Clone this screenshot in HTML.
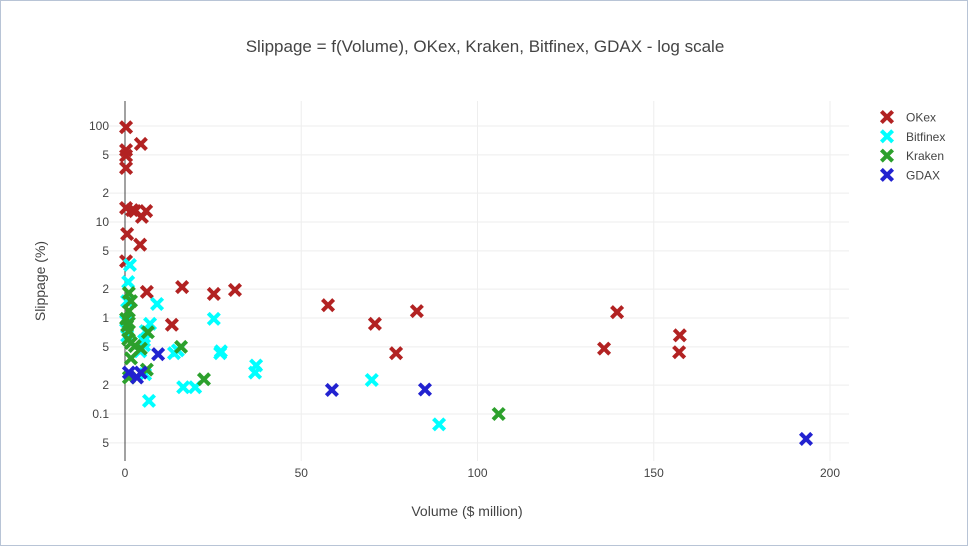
<!DOCTYPE html>
<html><head><meta charset="utf-8"><style>
body{margin:0;background:#fff;}
#wrap{position:relative;width:966px;height:544px;border:1px solid #b8c4d6;}
svg{font-family:"Liberation Sans",sans-serif;}
</style></head><body>
<div id="wrap">
<svg id="chart" width="966" height="544"></svg>
</div>
<script>
const xTicks=[0,50,100,150,200];
const yTicks=[100,50,20,10,5,2,1,0.5,0.2,0.1,0.05];
const yTickLabels=["100","5","2","10","5","2","1","5","2","0.1","5"];
const seriesNames=["OKex","Bitfinex","Kraken","GDAX"];
const seriesColors=["#b22222","#00ffff","#2ca02c","#2222d0"];
const okexX=[0.3,4.5,0.3,0.3,0.3,0.3,2,2.8,6,4.8,0.6,4.3,0.3,6.2,16.2,25.2,31.2,57.6,13.3,70.9,82.8,76.9,135.9,139.6,157.4,157.2];
const okexY=[97,65,56,49,36.5,14,13.3,13,13,11.3,7.5,5.8,3.9,1.87,2.1,1.78,1.96,1.36,0.85,0.87,1.18,0.43,0.48,1.15,0.66,0.44];
const bitX=[0.9,1.4,0.6,9.1,25.2,7.1,5.9,5.4,5.4,4.3,13.9,15,27,27.2,37.2,36.9,16.5,19.9,6.8,70,89.1,0.3,0.6,5.7];
const bitY=[2.37,3.57,1.5,1.4,0.98,0.87,0.73,0.58,0.52,0.45,0.43,0.46,0.43,0.45,0.32,0.27,0.19,0.19,0.137,0.226,0.078,0.93,0.65,0.26];
const krakX=[1.1,1.7,1.1,0.3,0.6,1.1,0.9,1.7,2.8,4.5,6.5,15.9,1.7,6.2,22.4,1.1,106,1.1];
const krakY=[1.82,1.5,1.18,0.98,0.83,0.73,0.6,0.55,0.51,0.48,0.71,0.5,0.38,0.29,0.23,0.24,0.1,0.89];
const gdaxX=[9.4,1.1,3.4,4.5,58.7,85.1,193.2];
const gdaxY=[0.42,0.27,0.24,0.27,0.178,0.18,0.055];

const NS="http://www.w3.org/2000/svg";
const svg=document.getElementById('chart');
const L=105,R=848,T=100,B=460;
function xs(v){return 124+v*3.525;}
function ys(v){return 317-Math.log10(v)*96;}
function el(t,a,p){const e=document.createElementNS(NS,t);for(const k in a)e.setAttribute(k,a[k]);(p||svg).appendChild(e);return e;}

const grid=el('g',{});


xTicks.forEach(t=>{ if(t!==0) el('line',{x1:xs(t),x2:xs(t),y1:T,y2:B,stroke:'#eee','stroke-width':1},grid);});
yTicks.forEach(t=>{ el('line',{x1:L,x2:R,y1:ys(t),y2:ys(t),stroke:'#eee','stroke-width':1},grid);});
const zl=el('line',{x1:xs(0),x2:xs(0),y1:T,y2:B,stroke:'#444','stroke-width':1});



xTicks.forEach(t=>{const e=el('text',{x:xs(t),y:476,'text-anchor':'middle','font-size':12,fill:'#444'});e.textContent=t;

});
yTicks.forEach((t,i)=>{const e=el('text',{x:108,y:ys(t)+4,'text-anchor':'end','font-size':12,fill:'#444'});e.textContent=yTickLabels[i];

});

let e=el('text',{x:484,y:51,'text-anchor':'middle','font-size':17,fill:'#444'});e.textContent='Slippage = f(Volume), OKex, Kraken, Bitfinex, GDAX - log scale';


e=el('text',{x:466,y:515,'text-anchor':'middle','font-size':14,fill:'#444'});e.textContent='Volume ($ million)';


e=el('text',{x:44,y:280,'text-anchor':'middle','font-size':14,fill:'#444',transform:'rotate(-90 44 280)'});e.textContent='Slippage (%)';



function marker(cx,cy,color,parent){
  const s=4.2;
  return el('path',{d:`M${cx-s},${cy-s}L${cx+s},${cy+s}M${cx-s},${cy+s}L${cx+s},${cy-s}`,stroke:color,'stroke-width':4,'stroke-linecap':'square',fill:'none'},parent);
}
const sets=[[okexX,okexY],[bitX,bitY],[krakX,krakY],[gdaxX,gdaxY]];
sets.forEach((s,si)=>{
  const g=el('g',{});
  
  
  s[0].forEach((x,i)=>{const m=marker(xs(x),ys(s[1][i]),seriesColors[si],g);
    
    });
  const lg=el('g',{});
  
  
  const ly=116+si*19.3;
  marker(886,ly,seriesColors[si],lg);
  const t=el('text',{x:905,y:ly+4.5,'font-size':12,fill:'#444'},lg);t.textContent=seriesNames[si];
});
</script>
</body></html>
